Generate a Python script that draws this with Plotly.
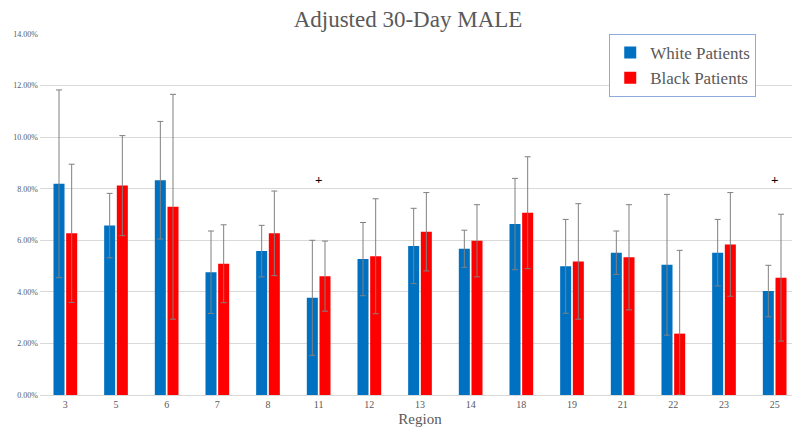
import plotly.graph_objects as go

regions = ["3", "5", "6", "7", "8", "11", "12", "13", "14", "18", "19", "21", "22", "23", "25"]
white_vals = [0.0819, 0.0657, 0.0833, 0.0476, 0.0558, 0.0377, 0.0527, 0.0578, 0.0567, 0.0663, 0.0499, 0.0552, 0.0505, 0.0552, 0.0403]
white_err = [0.0364, 0.0125, 0.0228, 0.0160, 0.0100, 0.0223, 0.0142, 0.0146, 0.0072, 0.0177, 0.0182, 0.0084, 0.0273, 0.0129, 0.0100]
black_vals = [0.0627, 0.0812, 0.0730, 0.0509, 0.0627, 0.0461, 0.0538, 0.0633, 0.0598, 0.0707, 0.0518, 0.0534, 0.0238, 0.0584, 0.0455]
black_err = [0.0268, 0.0194, 0.0436, 0.0151, 0.0164, 0.0136, 0.0223, 0.0152, 0.0140, 0.0217, 0.0224, 0.0204, 0.0323, 0.0201, 0.0246]
marked_regions = ["11", "25"]
marked_y = [0.0835, 0.0835]

font_family = "Liberation Serif, Times New Roman, serif"
text_gray = "#595959"
err_color = "#808080"

fig = go.Figure()
fig.add_trace(go.Bar(
    name="White Patients", x=regions, y=white_vals,
    marker=dict(color="#0070C0", line=dict(width=0)),
    error_y=dict(type="data", array=white_err,
                 arrayminus=[min(e, v) for e, v in zip(white_err, white_vals)],
                 color=err_color, thickness=1, width=3),
))
fig.add_trace(go.Bar(
    name="Black Patients", x=regions, y=black_vals,
    marker=dict(color="#FF0000", line=dict(width=0)),
    error_y=dict(type="data", array=black_err,
                 arrayminus=[min(e, v) for e, v in zip(black_err, black_vals)],
                 color=err_color, thickness=1, width=3),
))

for r, yv in zip(marked_regions, marked_y):
    fig.add_annotation(x=regions.index(r), y=yv, text="<b>+</b>", showarrow=False,
                       font=dict(family=font_family, size=13, color="#000000"))

# page body has an 8px margin; offset the margins so the plot area lands where the reference has it
fig.update_layout(
    width=800, height=434,
    margin=dict(l=32, r=8, t=26, b=47, autoexpand=False),
    paper_bgcolor="white", plot_bgcolor="white",
    barmode="group", bargap=0.5, bargroupgap=0.13,
    title=dict(text="Adjusted 30-Day MALE", x=0.5, xanchor="center", y=0.993, yanchor="top",
               pad=dict(t=0, b=0),
               font=dict(family=font_family, size=23, color=text_gray)),
    font=dict(family=font_family, color=text_gray),
    legend=dict(x=0.749, y=1.0, xanchor="left", yanchor="top",
                bordercolor="#8FAADC", borderwidth=1, bgcolor="white",
                font=dict(family=font_family, size=17, color=text_gray),
                itemwidth=30, tracegroupgap=0),
    xaxis=dict(type="category", range=[-0.5, len(regions) - 0.5], showgrid=False,
               showline=True, linecolor="#D9D9D9", linewidth=1, automargin=False,
               ticks="", tickfont=dict(family=font_family, size=10, color=text_gray),
               title=dict(text="Region", font=dict(family=font_family, size=15, color=text_gray), standoff=4)),
    yaxis=dict(range=[0, 0.14], dtick=0.02, tickformat=".2%", showgrid=True, gridcolor="#D9D9D9",
               zeroline=False, ticks="", automargin=False, ticklabelstandoff=1,
               tickfont=dict(family=font_family, size=8, color=text_gray)),
)

fig.write_html("out.html")
